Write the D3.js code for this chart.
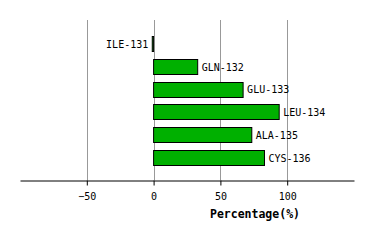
<!DOCTYPE html>
<html>
<head>
<meta charset="utf-8">
<script src="https://cdn.jsdelivr.net/npm/d3@7"></script>
<style>
  body { margin: 0; background: #fff; }
  text { font-family: "DejaVu Sans Mono", monospace; }
</style>
</head>
<body>
<script>
const residues = ["ILE-131", "GLN-132", "GLU-133", "LEU-134", "ALA-135", "CYS-136"];
const percents = [-1, 33, 67, 94, 73.5, 83];
const tickValues = [-50, 0, 50, 100];

const svg = d3.select("body").append("svg")
    .attr("width", 374)
    .attr("height", 240);

const x = d3.scaleLinear().domain([-100, 150]).range([20, 354]);
const y = d3.scaleBand().domain(residues).range([32.5, 169]).paddingInner(0.33).paddingOuter(0.17);

// grid
svg.selectAll(".grid").data(tickValues).enter().append("line")
    .attr("x1", d => Math.round(x(d)) + 0.5)
    .attr("x2", d => Math.round(x(d)) + 0.5)
    .attr("y1", 20).attr("y2", 180)
    .attr("stroke", "#999").attr("stroke-width", 1);

// bars
svg.selectAll(".bar").data(residues).enter().append("rect")
    .attr("x", (d, i) => x(Math.min(0, percents[i])))
    .attr("y", d => Math.round(y(d)) + 0.5)
    .attr("width", (d, i) => Math.abs(x(percents[i]) - x(0)))
    .attr("height", Math.round(y.bandwidth()))
    .attr("fill", "#00b000")
    .attr("stroke", "#000").attr("stroke-width", 1);

svg.selectAll(".lbl").data(residues).enter().append("text")
    .attr("x", (d, i) => percents[i] < 0 ? x(percents[i]) - 4 : x(percents[i]) + 4)
    .attr("y", d => y(d) + y.bandwidth() / 2 + 4)
    .attr("text-anchor", (d, i) => percents[i] < 0 ? "end" : "start")
    .attr("font-size", 10)
    .text(d => d);

// axis
const axis = svg.append("g").attr("transform", "translate(0,180.5)")
    .call(d3.axisBottom(x).tickValues(tickValues).tickSize(5).tickSizeOuter(0));
axis.select(".domain").attr("stroke", "#000");
axis.selectAll(".tick line").attr("stroke", "#000");
axis.selectAll(".tick text")
    .attr("font-family", "DejaVu Sans Mono, monospace")
    .attr("font-size", 10).attr("fill", "#000").attr("dy", "1.15em");

svg.append("text")
    .attr("x", 255).attr("y", 218)
    .attr("text-anchor", "middle")
    .attr("font-size", 11.5).attr("font-weight", "bold")
    .text("Percentage(%)");
</script>
</body>
</html>
